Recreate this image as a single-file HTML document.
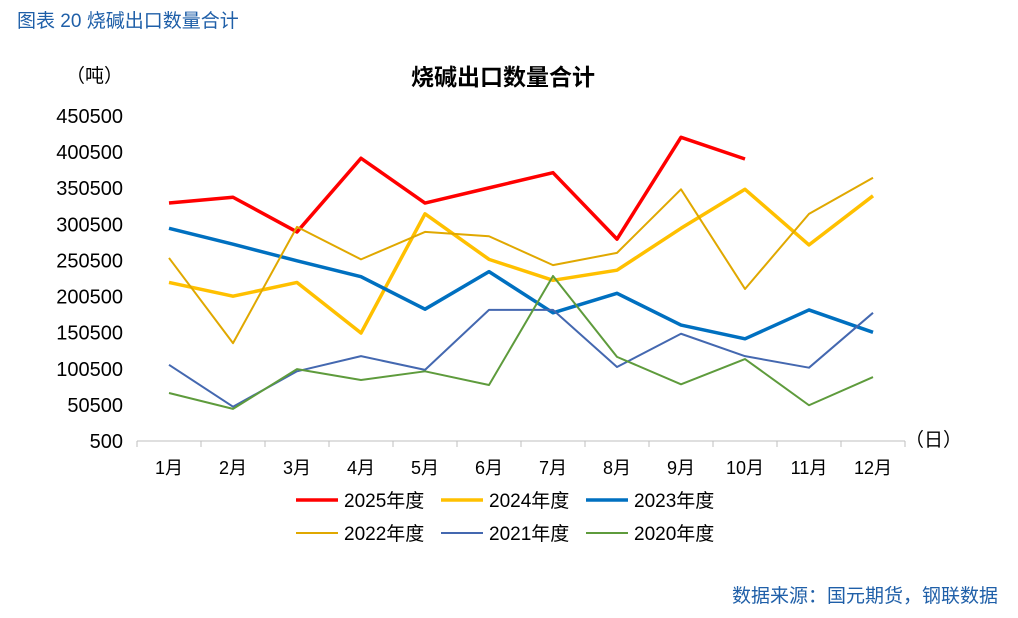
<!DOCTYPE html>
<html><head><meta charset="utf-8"><style>
body{margin:0;background:#fff;font-family:"Liberation Sans","Noto Sans CJK SC",sans-serif;}
svg text{font-family:"Liberation Sans","Noto Sans CJK SC",sans-serif;}
</style></head><body>
<svg id="c" width="1018" height="613" xmlns="http://www.w3.org/2000/svg">
<text x="17" y="27" font-size="19" fill="#1f5fa8">图表  20 烧碱出口数量合计</text>
<text x="503" y="85" font-size="23" font-weight="bold" text-anchor="middle" fill="#000">烧碱出口数量合计</text>
<text x="66" y="82" font-size="19" fill="#000">（吨）</text>
<text x="905" y="446" font-size="19" fill="#000">（日）</text>
<text x="998" y="602" font-size="19" text-anchor="end" fill="#1f5fa8">数据来源：国元期货，钢联数据</text>
<g id="axes"></g><g id="series"></g><g id="legend"></g>
</svg>
<script>
const months=["1月","2月","3月","4月","5月","6月","7月","8月","9月","10月","11月","12月"];
const yTicks=[500,50500,100500,150500,200500,250500,300500,350500,400500,450500];
const s2025=[330000,338000,290000,392000,330000,351000,372000,280000,421000,391000];
const s2024=[220000,201000,220000,150000,315000,252000,223000,237000,295000,349000,272000,340000];
const s2023=[295000,273000,250000,228000,183000,235000,178000,205000,161000,142000,182000,151000];
const s2022=[254000,136000,297000,252000,290000,284000,244000,261000,349000,211000,315000,365000];
const s2021=[106000,48000,97000,118000,99000,182000,182000,103000,149000,118000,102000,178000];
const s2020=[67000,45000,100000,85000,97000,78000,229000,117000,79000,114000,50000,89000];
const seriesNames=["2025年度","2024年度","2023年度","2022年度","2021年度","2020年度"];
const ns="http://www.w3.org/2000/svg";
const L=137,R=905,T=116,B=441;
function x(i){return L+(R-L)/12*(i+0.5);}
function y(v){return B-(v-500)/450000*(B-T);}
function mk(tag,attrs,parent){const e=document.createElementNS(ns,tag);for(const k in attrs)e.setAttribute(k,attrs[k]);parent.appendChild(e);return e;}
const ax=document.getElementById('axes');
const base=mk('line',{x1:L,x2:R,y1:B,y2:B,stroke:'#bfbfbf','stroke-width':1},ax);


for(let i=0;i<=12;i++){const t=mk('line',{x1:L+(R-L)/12*i,x2:L+(R-L)/12*i,y1:B,y2:B+6,stroke:'#bfbfbf'},ax);

}
months.forEach((m,i)=>{const t=mk('text',{x:x(i),y:474,'font-size':18,'text-anchor':'middle'},ax);t.textContent=m;

});
yTicks.forEach(v=>{const t=mk('text',{x:123,y:y(v)+7,'font-size':20,'text-anchor':'end'},ax);t.textContent=v;

});
const sg=document.getElementById('series');
const defs=[[s2025,'#ff0000',3.5],[s2024,'#ffc000',3.5],[s2023,'#0070c0',3.5],[s2022,'#e0a800',2],[s2021,'#4468b0',2],[s2020,'#5e9b3c',2]];
defs.forEach((d,k)=>{const p=mk('polyline',{points:d[0].map((v,i)=>x(i)+','+y(v)).join(' '),fill:'none',stroke:d[1],'stroke-width':d[2],'stroke-linejoin':'round'},sg);

});
const lg=document.getElementById('legend');
defs.forEach((d,k)=>{const row=Math.floor(k/3),col=k%3;const lx=296+col*145,ly=500+row*33;
const g=mk('g',{},lg);


mk('line',{x1:lx,x2:lx+42,y1:ly,y2:ly,stroke:d[1],'stroke-width':d[2]},g);
const t=mk('text',{x:lx+48,y:ly+7,'font-size':19},g);t.textContent=seriesNames[k];});
</script>
</body></html>
